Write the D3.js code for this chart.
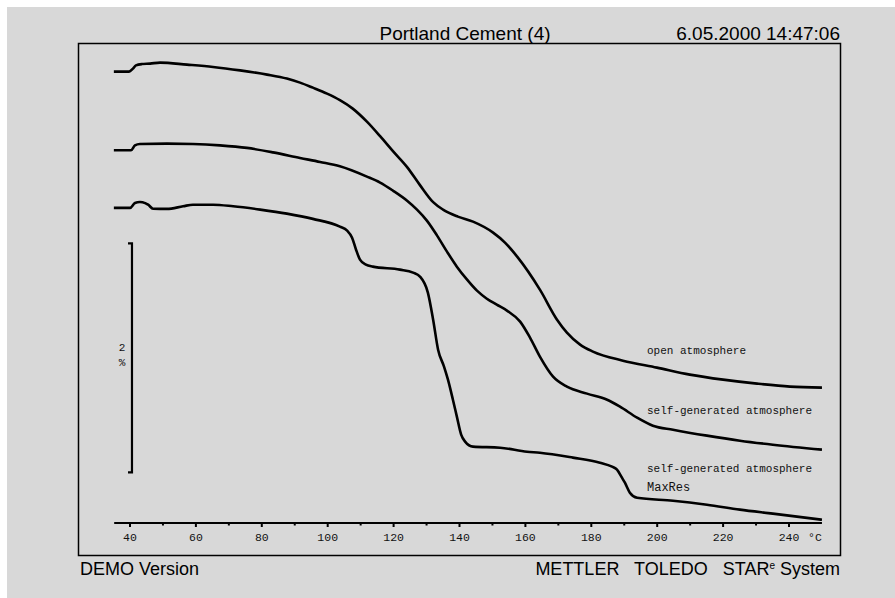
<!DOCTYPE html>
<html>

<head>
  <meta charset="utf8">
  <script src="https://d3js.org/d3.v7.min.js"></script>
  <style>
    body { margin: 0; background: #fff; }
    .curve { stroke: #000; stroke-width: 2.6; fill: none; }
    .mono { font-family: 'Liberation Mono', 'DejaVu Sans Mono', monospace; fill: #111; }
    .sans { font-family: 'Liberation Sans', Arial, sans-serif; fill: #000; }
  </style>
</head>

<body>
  <svg id="chart" width="895" height="598"></svg>

  <script>
    // temperature (°C) and relative mass (%)
    var openTemp = [35.1, 39.7, 40.9, 41.8, 43.6, 46.1, 49.1, 57.3, 65.2, 73.4, 81.6, 87.6, 91.6, 95.5, 99.8, 103.7, 107.6, 111.9, 115.9, 119.8, 124.1, 128.0, 132.0, 135.0, 139.5, 144.1, 150.2, 153.8, 157.5, 164.4, 169.6, 172.6, 176.6, 180.5, 189.6, 199.9, 209.9, 220.0, 230.3, 240.3, 250.0];
    var openMass = [0.0, 0.0, 0.026, 0.055, 0.066, 0.07, 0.079, 0.061, 0.041, 0.011, -0.026, -0.061, -0.096, -0.14, -0.192, -0.249, -0.323, -0.437, -0.564, -0.695, -0.834, -0.991, -1.14, -1.205, -1.266, -1.31, -1.406, -1.493, -1.616, -1.904, -2.166, -2.279, -2.384, -2.445, -2.524, -2.585, -2.646, -2.69, -2.725, -2.751, -2.76];

    var selfTemp = [35.1, 40.3, 41.5, 43.0, 51.2, 59.1, 67.3, 75.5, 83.4, 91.6, 97.7, 103.7, 111.9, 115.9, 119.8, 124.1, 127.1, 130.1, 133.2, 136.2, 139.2, 142.3, 145.3, 148.3, 151.3, 154.4, 158.4, 161.4, 164.4, 168.4, 172.6, 178.7, 184.8, 188.7, 193.9, 198.7, 204.8, 215.1, 225.1, 235.1, 250.0];
    var selfMass = [-0.687, -0.687, -0.644, -0.632, -0.629, -0.632, -0.644, -0.666, -0.705, -0.754, -0.789, -0.827, -0.917, -0.969, -1.039, -1.127, -1.205, -1.301, -1.432, -1.572, -1.703, -1.817, -1.913, -1.983, -2.035, -2.087, -2.183, -2.323, -2.489, -2.664, -2.751, -2.812, -2.865, -2.926, -3.022, -3.092, -3.127, -3.179, -3.223, -3.258, -3.301];

    var maxResTemp = [35.1, 40.0, 41.5, 43.0, 44.6, 45.5, 47.0, 51.2, 56.1, 59.1, 65.2, 71.3, 79.5, 87.6, 95.5, 103.7, 105.9, 107.4, 108.6, 109.8, 111.6, 113.7, 121.9, 125.9, 128.0, 130.4, 132.0, 133.5, 135.3, 136.5, 138.0, 139.2, 140.5, 141.7, 144.1, 152.3, 160.5, 164.4, 174.4, 182.6, 186.3, 187.8, 189.3, 190.2, 191.7, 193.9, 204.8, 215.1, 225.1, 235.1, 250.0];
    var maxResMass = [-1.19, -1.19, -1.147, -1.138, -1.148, -1.162, -1.197, -1.199, -1.176, -1.162, -1.162, -1.176, -1.205, -1.24, -1.286, -1.354, -1.389, -1.45, -1.555, -1.642, -1.686, -1.703, -1.729, -1.755, -1.79, -1.93, -2.166, -2.428, -2.576, -2.69, -2.865, -3.013, -3.17, -3.231, -3.275, -3.284, -3.319, -3.328, -3.371, -3.415, -3.45, -3.476, -3.546, -3.59, -3.677, -3.721, -3.747, -3.782, -3.825, -3.86, -3.913];

    var tickValues = [40, 60, 80, 100, 120, 140, 160, 180, 200, 220, 240];
    var minorTicks = [50, 70, 90, 110, 130, 150, 170, 190, 210, 230];
    var scaleBar = [-1.5, -3.5]; // 2 %

    var chart = d3.select('#chart');

    var x = d3.scaleLinear().domain([40, 240]).range([130, 789]);
    var y = d3.scaleLinear().domain([0.25, -4.23]).range([43, 556]);

    // page background and frame
    chart.append('rect')
      .attr('x', 7).attr('y', 7).attr('width', 888).attr('height', 591)
      .attr('fill', '#d8d8d8');
    chart.append('rect')
      .attr('x', 78.5).attr('y', 43.5).attr('width', 762).attr('height', 512)
      .attr('fill', 'none').attr('stroke', '#000').attr('stroke-width', 1.5);

    chart.append('text').attr('class', 'sans')
      .attr('x', 465).attr('y', 40).attr('text-anchor', 'middle')
      .style('font-size', '19px').text('Portland Cement (4)');
    chart.append('text').attr('class', 'sans')
      .attr('x', 840).attr('y', 40).attr('text-anchor', 'end')
      .style('font-size', '19px').text('6.05.2000 14:47:06');

    chart.append('text').attr('class', 'sans')
      .attr('x', 80).attr('y', 575)
      .style('font-size', '18px').text('DEMO Version');
    var brand = chart.append('text').attr('class', 'sans')
      .attr('x', 840).attr('y', 575).attr('text-anchor', 'end')
      .style('font-size', '18px').attr('xml:space', 'preserve');
    brand.append('tspan').text('METTLER   TOLEDO   STAR');
    brand.append('tspan').attr('dy', -6).style('font-size', '10px').text('e');
    brand.append('tspan').attr('dy', 6).text(' System');

    // x axis
    var axisY = 523;
    var axis = chart.append('g')
      .attr('transform', 'translate(0,' + axisY + ')');
    axis.append('line')
      .attr('x1', x(35.2)).attr('x2', x(250))
      .attr('stroke', '#000').attr('stroke-width', 2.2);
    axis.selectAll('.major').data(tickValues).enter().append('line')
      .attr('x1', (d) => x(d)).attr('x2', (d) => x(d))
      .attr('y1', 0).attr('y2', 4)
      .attr('stroke', '#000').attr('stroke-width', 2);
    axis.selectAll('.minor').data(minorTicks).enter().append('line')
      .attr('x1', (d) => x(d)).attr('x2', (d) => x(d))
      .attr('y1', 0).attr('y2', 2.5)
      .attr('stroke', '#000').attr('stroke-width', 2);
    axis.selectAll('.lbl').data(tickValues).enter().append('text')
      .attr('class', 'mono')
      .attr('x', (d) => x(d)).attr('y', 18)
      .attr('text-anchor', 'middle')
      .style('font-size', '11.5px')
      .text((d) => d);
    axis.append('text').attr('class', 'mono')
      .attr('x', 815).attr('y', 18).attr('text-anchor', 'middle')
      .style('font-size', '11.5px').text('°C');

    // 2 % scale bar
    var barX = x(40.6);
    chart.append('path')
      .attr('d', 'M' + (barX - 4) + ',' + y(scaleBar[0]) + 'H' + barX + 'V' + y(scaleBar[1]) + 'H' + (barX - 4))
      .attr('fill', 'none').attr('stroke', '#000').attr('stroke-width', 2.2);
    chart.append('text').attr('class', 'mono')
      .attr('x', barX - 10).attr('y', y(-2.5) - 7).attr('text-anchor', 'middle')
      .style('font-size', '11px').text('2');
    chart.append('text').attr('class', 'mono')
      .attr('x', barX - 10).attr('y', y(-2.5) + 8).attr('text-anchor', 'middle')
      .style('font-size', '11px').text('%');

    // curves
    var line = d3.line()
      .x((d) => x(d[0]))
      .y((d) => y(d[1]))
      .curve(d3.curveMonotoneX);

    [[openTemp, openMass], [selfTemp, selfMass], [maxResTemp, maxResMass]].forEach(function (s) {
      chart.append('path')
        .datum(d3.zip(s[0], s[1]))
        .attr('class', 'curve')
        .attr('d', line);
    });

    // curve labels
    var labels = [
      { text: 'open atmosphere', y: 354, size: 11 },
      { text: 'self-generated atmosphere', y: 414, size: 11 },
      { text: 'self-generated atmosphere', y: 472, size: 11 },
      { text: 'MaxRes', y: 491, size: 12 }
    ];
    chart.selectAll('.clabel').data(labels).enter().append('text')
      .attr('class', 'mono')
      .attr('x', 647).attr('y', (d) => d.y)
      .style('font-size', (d) => d.size + 'px')
      .text((d) => d.text);
  </script>
</body>

</html>
